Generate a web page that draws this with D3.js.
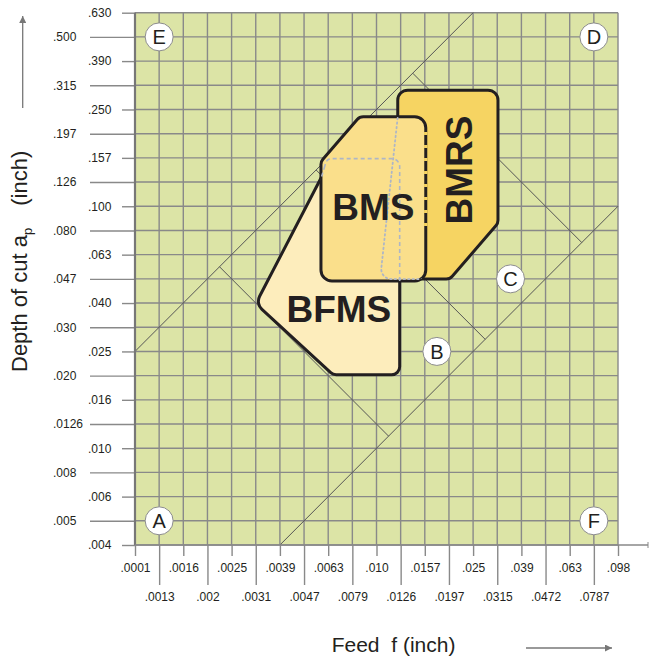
<!DOCTYPE html>
<html>
<head>
<meta charset="utf-8">
<script src="https://cdn.jsdelivr.net/npm/d3@7"></script>
<style>
  html, body { margin: 0; padding: 0; background: #ffffff; }
  svg { display: block; font-family: "Liberation Sans", Arial, Helvetica, sans-serif; }
</style>
</head>
<body>
<svg id="chart" width="649" height="658"></svg>
<script>
// ---- data (grid index units: x = feed step, y = depth step) ----
const xLabels = [".0001",".0013",".0016",".002",".0025",".0031",".0039",".0047",".0063",".0079",".010",
                 ".0126",".0157",".0197",".025",".0315",".039",".0472",".063",".0787",".098"];
const yLabels = [".004",".005",".006",".008",".010",".0126",".016",".020",".025",".030",".040",".047",
                 ".063",".080",".100",".126",".157",".197",".250",".315",".390",".500",".630"];

const guideLines = [
  [[0, 8], [14, 22]],
  [[6, 0], [20, 14]],
  [[3.5, 11.5], [10.5, 4.5]],
  [[7.5, 15.5], [14.5, 8.5]],
  [[11.5, 19.5], [18.5, 12.5]]
];

const markerNames = ["E", "D", "A", "F", "C", "B"];
const markerX = [1, 19, 1, 19, 15.55, 12.5];
const markerY = [21, 21, 1, 1, 11, 8];

const bmrsShape = [[10.88, 18.8], [15.03, 18.8], [15.03, 13.3], [13.04, 10.99], [10.15, 10.99], [10.88, 17.7]];
const bfmsShape = [[7.95, 15.97], [10.96, 15.97], [10.96, 7.04], [8.2, 7.04], [5.0, 9.97], [7.72, 15.2]];
const bmsShape  = [[7.70, 15.85], [9.3, 17.7], [12.04, 17.7], [12.04, 10.91], [7.70, 10.91]];

const shapeNames = ["BMRS", "BFMS", "BMS"];
const shapeLabelX = [13.94, 8.44, 9.87];
const shapeLabelY = [15.5, 9.2, 13.45];

// ---- layout ----
const svg = d3.select("#chart");
const x = d3.scaleLinear().domain([0, 20]).range([135, 618]);
const y = d3.scaleLinear().domain([0, 22]).range([545, 12.7]);

const GREEN = "#dce4a6", GRID = "#898989", INK = "#231f20";

// background
svg.append("rect")
  .attr("x", x(0)).attr("y", y(22))
  .attr("width", x(20) - x(0)).attr("height", y(0) - y(22))
  .attr("fill", GREEN);

// grid
const grid = svg.append("g").attr("stroke", GRID).attr("stroke-width", 1.4);
grid.selectAll("line.v").data(d3.range(0, 21)).join("line")
  .attr("class", "v")
  .attr("x1", d => x(d)).attr("x2", d => x(d))
  .attr("y1", y(22)).attr("y2", y(0));
grid.selectAll("line.h").data(d3.range(0, 23)).join("line")
  .attr("class", "h")
  .attr("y1", d => y(d)).attr("y2", d => y(d))
  .attr("x1", x(0)).attr("x2", x(20));

// guide diagonals
const lineGen = d3.line().x(d => x(d[0])).y(d => y(d[1]));
svg.append("g").selectAll("path").data(guideLines).join("path")
  .attr("d", lineGen).attr("fill", "none")
  .attr("stroke", "#555555").attr("stroke-width", 1);

// axes
function styleAxis(g) {
  g.select(".domain").remove();
  g.selectAll(".tick line").attr("stroke", GRID).attr("stroke-width", 1.4);
  g.selectAll(".tick text").attr("fill", INK).attr("font-size", 12)
    .attr("font-family", "'Liberation Sans', Arial, sans-serif");
}
svg.append("g").attr("transform", `translate(0,${y(0)})`)
  .call(d3.axisBottom(x).tickValues(d3.range(0, 21, 2)).tickSize(11).tickPadding(7).tickFormat(i => xLabels[i]))
  .call(styleAxis);
svg.append("g").attr("transform", `translate(0,${y(0)})`)
  .call(d3.axisBottom(x).tickValues(d3.range(1, 21, 2)).tickSize(40).tickPadding(7).tickFormat(i => xLabels[i]))
  .call(styleAxis);
svg.append("g").attr("transform", `translate(${x(0)},0)`)
  .call(d3.axisLeft(y).tickValues(d3.range(0, 23, 2)).tickSize(13).tickFormat(i => yLabels[i]))
  .call(styleAxis)
  .call(g => g.selectAll(".tick text").attr("text-anchor", "start").attr("x", 88 - 135));
svg.append("g").attr("transform", `translate(${x(0)},0)`)
  .call(d3.axisLeft(y).tickValues(d3.range(1, 23, 2)).tickSize(45).tickFormat(i => yLabels[i]))
  .call(styleAxis)
  .call(g => g.selectAll(".tick text").attr("text-anchor", "start").attr("x", 53 - 135));

// frame lines
svg.append("line").attr("x1", x(0)).attr("x2", x(0)).attr("y1", y(22)).attr("y2", y(0))
  .attr("stroke", "#777777").attr("stroke-width", 2.2);
svg.append("line").attr("x1", x(0)).attr("x2", 648).attr("y1", y(0)).attr("y2", y(0))
  .attr("stroke", "#898989").attr("stroke-width", 1.5);
svg.append("line").attr("x1", 648).attr("x2", 648).attr("y1", y(0) - 3).attr("y2", y(0) + 3)
  .attr("stroke", "#898989").attr("stroke-width", 1);

// rounded polygon helper
function roundedPath(pts, r) {
  const P = pts.map(p => [x(p[0]), y(p[1])]);
  const n = P.length;
  const p = d3.path();
  const m0 = [(P[n - 1][0] + P[0][0]) / 2, (P[n - 1][1] + P[0][1]) / 2];
  p.moveTo(m0[0], m0[1]);
  for (let i = 0; i < n; i++) {
    const a = P[i], b = P[(i + 1) % n];
    const rr = Array.isArray(r) ? r[i] : r;
    p.arcTo(a[0], a[1], b[0], b[1], rr);
  }
  p.closePath();
  return p.toString();
}

const bmrsD = roundedPath(bmrsShape, [10, 10, 8, 8, 10, 2]);
const bfmsD = roundedPath(bfmsShape, [6, 8, 8, 8, 11, 4]);
const bmsD  = roundedPath(bmsShape, [8, 8, 11, 11, 11]);

const defs = svg.append("defs");
defs.append("clipPath").attr("id", "bmsClip").append("path").attr("d", bmsD);

const shapes = svg.append("g").attr("stroke", INK).attr("stroke-width", 3).attr("stroke-linejoin", "round");
shapes.append("path").attr("d", bmrsD).attr("fill", "#f6d462");
shapes.append("path").attr("d", bfmsD).attr("fill", "#fdedbc");
shapes.append("path").attr("d", bmsD).attr("fill", "#fadf8b");

// hidden outlines seen through BMS
const hidden = svg.append("g").attr("clip-path", "url(#bmsClip)").attr("fill", "none");
hidden.append("path").attr("d", bfmsD).attr("stroke", "#aeb6c6").attr("stroke-width", 1.6)
  .attr("stroke-dasharray", "4,3");
hidden.append("path").attr("d", bmrsD).attr("stroke", "#aeb6c6").attr("stroke-width", 1.8)
  .attr("stroke-dasharray", "1.5,3").attr("stroke-linecap", "round");

// gaps in the BMS right edge where it overlaps BMRS
svg.append("line").attr("x1", x(12.04)).attr("x2", x(12.04)).attr("y1", 132).attr("y2", 228)
  .attr("stroke", "#f6d462").attr("stroke-width", 3.4).attr("stroke-dasharray", "3,10");

// shape labels
shapeNames.forEach((name, i) => {
  const t = svg.append("text")
    .attr("font-weight", "bold").attr("font-size", 37).attr("fill", INK)
    .attr("text-anchor", "middle").text(name);
  if (name === "BMRS") {
    t.attr("transform", `translate(${x(shapeLabelX[i])},${y(shapeLabelY[i])}) rotate(-90)`);
  } else {
    t.attr("x", x(shapeLabelX[i])).attr("y", y(shapeLabelY[i]));
  }
});

// markers
const mk = svg.append("g").selectAll("g").data(markerNames).join("g")
  .attr("transform", (d, i) => `translate(${x(markerX[i])},${y(markerY[i])})`);
mk.append("circle").attr("r", 14).attr("fill", "#ffffff").attr("stroke", "#8c8c8c").attr("stroke-width", 1);
mk.append("text").attr("text-anchor", "middle").attr("dy", "0.36em")
  .attr("font-size", 20).attr("fill", INK).text(d => d);

// axis titles
const yt = svg.append("text").attr("transform", "translate(27,372) rotate(-90)")
  .attr("font-size", 22).attr("fill", INK);
yt.append("tspan").text("Depth of cut a");
yt.append("tspan").attr("font-size", 13).attr("dy", 5).text("p");
yt.append("tspan").attr("dy", -5).attr("dx", 22).text("(inch)");

svg.append("text").attr("x", 331.7).attr("y", 651.7).attr("font-size", 21).attr("fill", INK)
  .style("white-space", "pre").text("Feed  f (inch)");

// arrows
defs.append("marker").attr("id", "arr").attr("viewBox", "0 0 10 10").attr("refX", 10).attr("refY", 5)
  .attr("markerWidth", 10).attr("markerHeight", 7).attr("markerUnits", "userSpaceOnUse")
  .attr("orient", "auto").append("path").attr("d", "M0,0 L10,5 L0,10 z").attr("fill", "#777");
svg.append("line").attr("x1", 22.7).attr("x2", 22.7).attr("y1", 108).attr("y2", 16)
  .attr("stroke", "#777").attr("stroke-width", 1.3).attr("marker-end", "url(#arr)");
svg.append("line").attr("x1", 526).attr("x2", 612).attr("y1", 648).attr("y2", 648)
  .attr("stroke", "#777").attr("stroke-width", 1.3).attr("marker-end", "url(#arr)");
</script>
</body>
</html>
